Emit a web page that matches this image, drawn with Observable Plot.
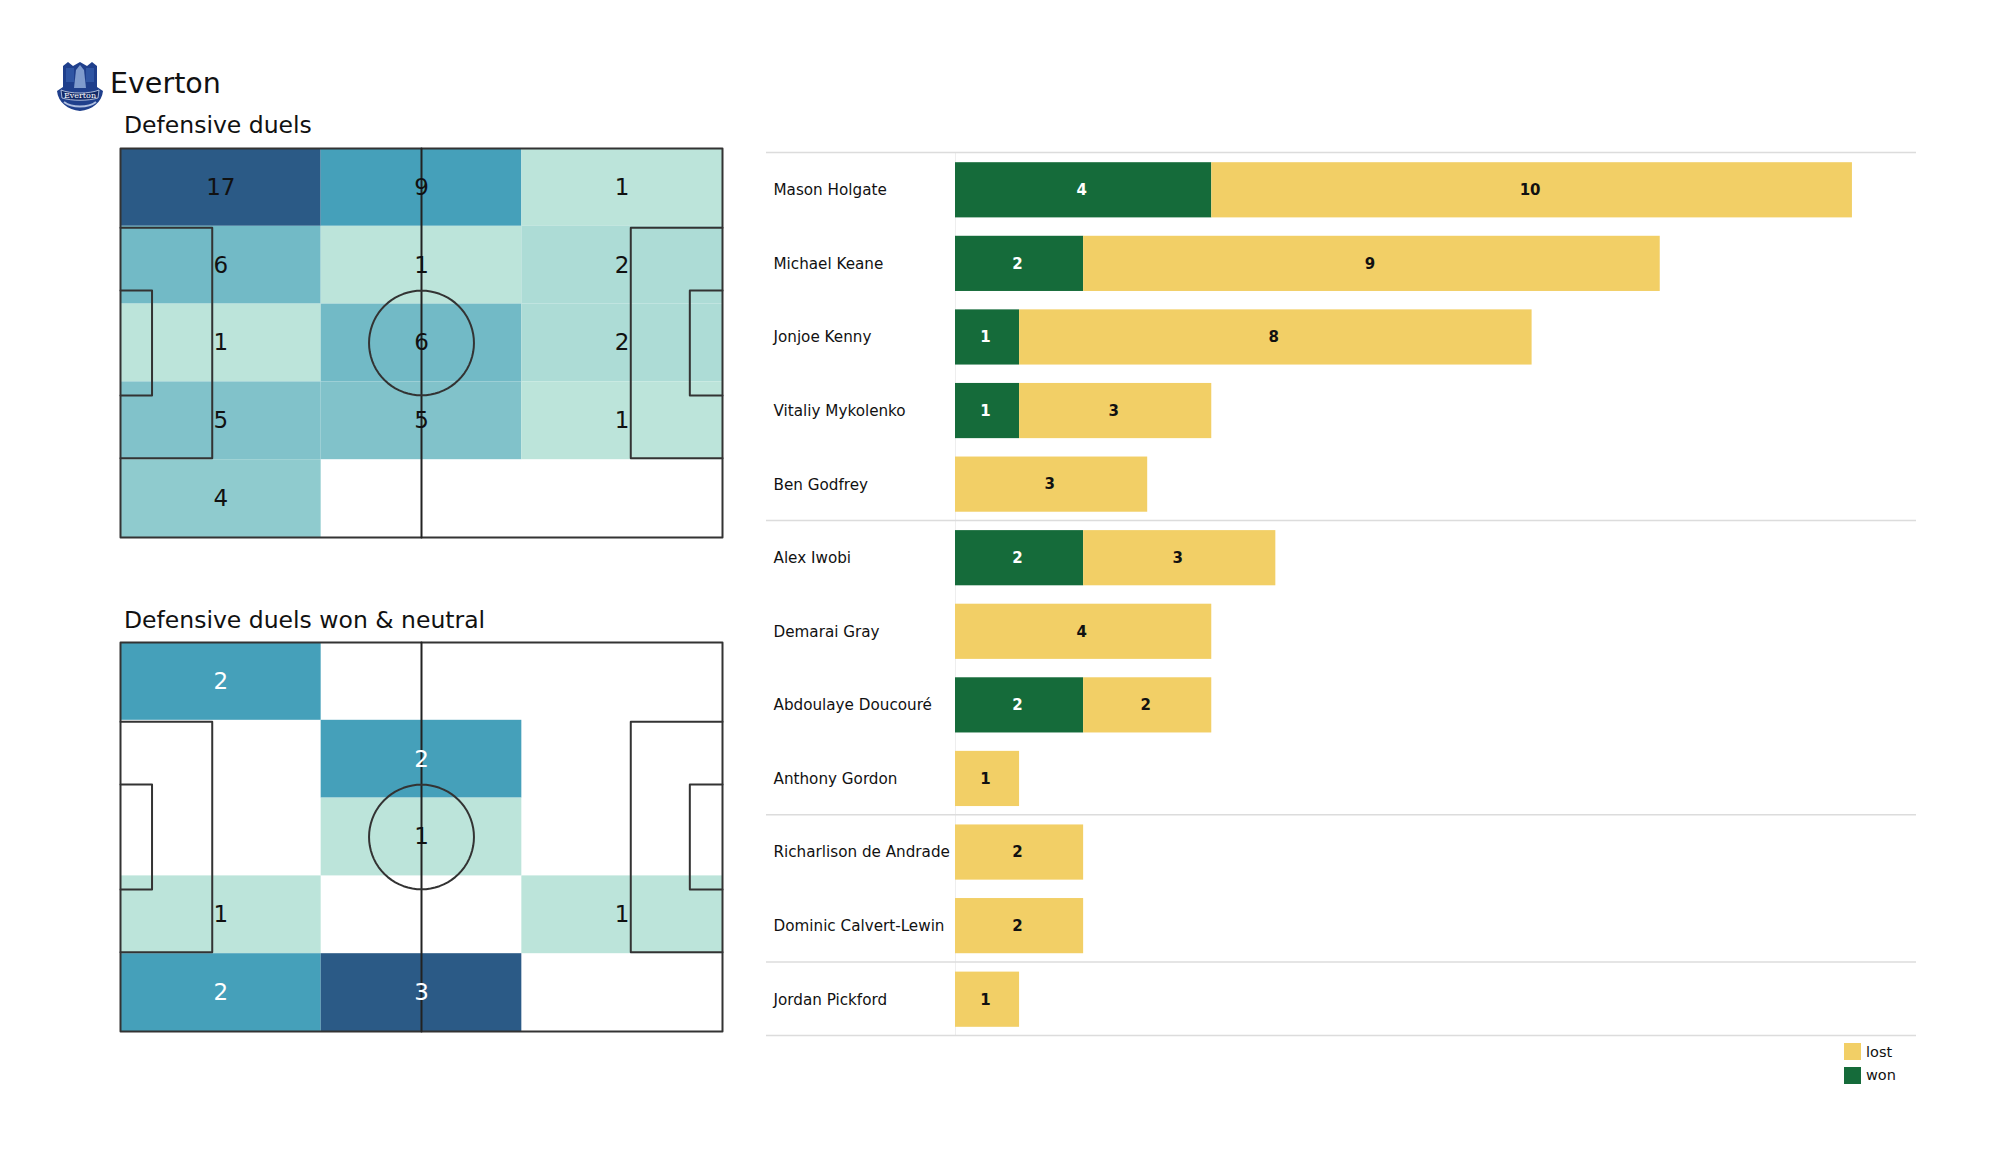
<!DOCTYPE html>
<html>
<head>
<meta charset="utf-8">
<script src="https://cdn.jsdelivr.net/npm/d3@7"></script>
<script src="https://cdn.jsdelivr.net/npm/@observablehq/plot@0.6"></script>
<style>
html,body{margin:0;padding:0;background:#fff;}
#page{position:relative;width:2000px;height:1175px;overflow:hidden;font-family:"DejaVu Sans",sans-serif;color:#111;}
#page svg{position:absolute;background:transparent;overflow:visible;}
.t{position:absolute;white-space:nowrap;line-height:1;}
.sw{position:absolute;width:17px;height:17px;}
</style>
</head>
<body>
<div id="page">
  <svg style="left:56px;top:60px" width="48" height="52" viewBox="0 0 48 52">
    <path d="M7 6 L12 2 L17 6 L24 2 L31 6 L36 2 L41 6 L41 27 L47 31 C46 42 36 50 24 51 C12 50 2 42 1 31 L7 27 Z" fill="#1f3f8c"/>
    <path d="M10 8 h8 v14 h-8 Z M30 8 h8 v14 h-8 Z" fill="#2f55a3"/>
    <path d="M20 10 L24 5 L28 10 L30 28 L18 28 Z" fill="#7f9bcd"/>
    <path d="M5 30 C14 34 34 34 43 30 L42 38 C32 41 16 41 6 38 Z" fill="#142b68" stroke="#cdd8ee" stroke-width="0.8"/>
    <text x="24" y="38" text-anchor="middle" font-size="8" fill="#fff" font-family="DejaVu Serif">Everton</text>
    <path d="M8 42 C16 48 32 48 40 42" fill="none" stroke="#aebee0" stroke-width="2"/>
  </svg>
  <div class="t" id="title" style="left:110px;top:70px;font-size:28.5px;">Everton</div>
  <div class="t" style="left:124px;top:114px;font-size:23.5px;">Defensive duels</div>
  <div class="t" style="left:124px;top:609px;font-size:23.5px;">Defensive duels won &amp; neutral</div>
  <div class="sw" style="left:1844px;top:1043px;background:#f2cf66"></div>
  <div class="t" style="left:1866px;top:1045px;font-size:14.5px;">lost</div>
  <div class="sw" style="left:1844px;top:1067px;background:#156b3a"></div>
  <div class="t" style="left:1866px;top:1068px;font-size:14.5px;">won</div>
</div>
<script>
// Pitch grid values (rows top to bottom, columns left to right)
const duelCounts = [
  [17, 9, 1],
  [6, 1, 2],
  [1, 6, 2],
  [5, 5, 1],
  [4, 0, 0]
];
const duelsWonCounts = [
  [2, 0, 0],
  [0, 2, 0],
  [0, 1, 0],
  [1, 0, 1],
  [2, 3, 0]
];
const colEdges = [0, 35, 70, 105];
const rowEdges = [0, 13.6, 27.2, 40.8, 54.4, 68];

// Players and duel outcomes
const players = ["Mason Holgate","Michael Keane","Jonjoe Kenny","Vitaliy Mykolenko","Ben Godfrey","Alex Iwobi","Demarai Gray","Abdoulaye Doucouré","Anthony Gordon","Richarlison de Andrade","Dominic Calvert-Lewin","Jordan Pickford"];
const won  = [4, 2, 1, 1, 0, 2, 0, 2, 0, 0, 0, 0];
const lost = [10, 9, 8, 3, 3, 3, 4, 2, 1, 2, 2, 1];
const groupLast = ["Ben Godfrey","Anthony Gordon","Dominic Calvert-Lewin","Jordan Pickford"];

// Pitch markings, in metres
const outline = [[0,0],[105,0],[105,68],[0,68],[0,0]];
const halfway = [[52.5,0],[52.5,68]];
const boxes = [
  [[0,13.84],[16,13.84],[16,54.16],[0,54.16]],
  [[105,13.84],[89,13.84],[89,54.16],[105,54.16]],
  [[0,24.84],[5.5,24.84],[5.5,43.16],[0,43.16]],
  [[105,24.84],[99.3,24.84],[99.3,43.16],[105,43.16]]
];
const circle = d3.range(0, 361, 5).map(a => [52.5 + 9.15*Math.cos(a*Math.PI/180), 34 + 9.15*Math.sin(a*Math.PI/180)]);

const lineColor = "#333";
const colorRange = ["#bce4da", "#45a0ba", "#2b5a86"];

function pitch(counts, textFill, left, top) {
  const cells = counts.flatMap((row, r) => row.map((v, c) => ({
    v, x1: colEdges[c], x2: colEdges[c+1], y1: rowEdges[r], y2: rowEdges[r+1]
  }))).filter(d => d.v > 0);
  const max = d3.max(cells, d => d.v), min = d3.min(cells, d => d.v);
  const svg = Plot.plot({
    width: 622, height: 409,
    marginLeft: 10, marginRight: 10, marginTop: 10, marginBottom: 10,
    x: {domain: [0, 105], axis: null},
    y: {domain: [0, 68], axis: null, reverse: true},
    color: {type: "linear", domain: [min, (min+max)/2, max], range: colorRange},
    marks: [
      Plot.rect(cells, {x1: "x1", x2: "x2", y1: "y1", y2: "y2", fill: "v", inset: 0}),
      Plot.line(outline, {x: "0", y: "1", stroke: lineColor, strokeWidth: 2}),
      Plot.line(halfway, {x: "0", y: "1", stroke: "#222", strokeWidth: 2}),
      ...boxes.map(b => Plot.line(b, {x: "0", y: "1", stroke: lineColor, strokeWidth: 2})),
      Plot.line(circle, {x: "0", y: "1", stroke: lineColor, strokeWidth: 2}),
      Plot.text(cells, {
        x: d => (d.x1+d.x2)/2, y: d => (d.y1+d.y2)/2, text: d => String(d.v),
        fill: textFill, fontSize: 23, fontFamily: "DejaVu Sans"
      })
    ]
  });
  svg.style.left = left + "px";
  svg.style.top = top + "px";
  document.getElementById("page").appendChild(svg);
}
pitch(duelCounts, () => "#111", 110, 138);
pitch(duelsWonCounts, d => d.v >= 2 ? "#fff" : "#111", 110, 632);

// Bars
const rows = players.flatMap((p, i) => [
  {player: p, outcome: "won", value: won[i]},
  {player: p, outcome: "lost", value: lost[i]}
]).filter(d => d.value > 0);
const barHeight = 883, step = barHeight / players.length;
const barSvg = Plot.plot({
  width: 1150, height: barHeight + 20,
  marginLeft: 189, marginRight: 0, marginTop: 10, marginBottom: 10,
  x: {domain: [0, 15], axis: null},
  y: {domain: players, paddingInner: 0.25, paddingOuter: 0.125, round: false, label: null},
  color: {domain: ["lost", "won"], range: ["#f2cf66", "#156b3a"]},
  marks: [
    Plot.ruleX([0], {stroke: "#eeeeee", strokeWidth: 1}),
    Plot.barX(rows, Plot.stackX({x: "value", y: "player", fill: "outcome", order: null})),
    Plot.text(rows, Plot.stackX({
      x: "value", y: "player", text: d => String(d.value), order: null, dx: -2,
      fill: d => d.outcome === "won" ? "#fff" : "#111",
      fontWeight: "bold", fontSize: 15, fontFamily: "DejaVu Sans"
    })),
    Plot.axisY({tickSize: 0, textAnchor: "start", dx: -173, label: null, fontSize: 15.2, fontFamily: "DejaVu Sans", fill: "#111"}),
    Plot.ruleY([players[0]], {dy: -step/2 - 1, stroke: "#dcdcdc", strokeWidth: 1.5, insetLeft: -189}),
    Plot.ruleY(groupLast, {dy: step/2 - 1, stroke: "#dcdcdc", strokeWidth: 1.5, insetLeft: -189})
  ]
});
barSvg.style.left = "766px";
barSvg.style.top = "143px";
document.getElementById("page").appendChild(barSvg);
</script>
</body>
</html>
